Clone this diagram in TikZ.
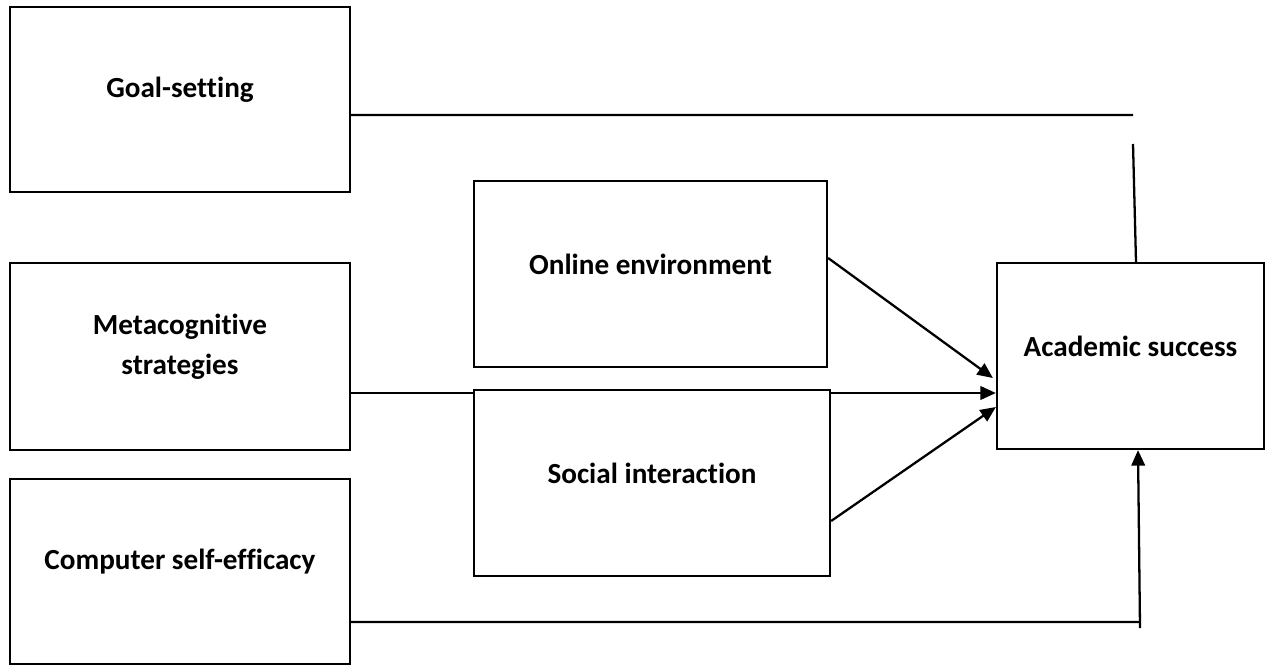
\documentclass[tikz,border=0pt]{standalone}
\usepackage{fontspec}
\setmainfont{Carlito}[Ligatures=NoCommon]
\usetikzlibrary{arrows.meta,calc}

\begin{document}
\begin{tikzpicture}[
    x=0.02cm, y=-0.02cm,
    box/.style={rectangle, draw, line width=1.3pt, inner sep=0pt},
    txt/.style={font=\fontsize{16.6}{22.7}\selectfont\bfseries, align=center, yshift=0.2cm},
    link/.style={line width=1.3pt},
    arrow/.style={-{Triangle[length=0.31cm,width=0.27cm]}, line width=1.3pt}
]
  \useasboundingbox (0,0) rectangle (1267,666);

  % Predictors (left column)
  \node[box, minimum width=6.8cm, minimum height=3.7cm, label={[txt]center:Goal-setting}] (goal) at (180,99.5) {};
  \node[box, minimum width=6.8cm, minimum height=3.74cm, label={[txt]center:Metacognitive\\strategies}] (meta) at (180,356.5) {};
  \node[box, minimum width=6.8cm, minimum height=3.7cm, label={[txt]center:Computer self-efficacy}] (comp) at (180,571.5) {};

  % Middle column
  \node[box, minimum width=7.06cm, minimum height=3.72cm, label={[txt]center:Online environment}] (online) at (650.5,274) {};
  \node[box, minimum width=7.12cm, minimum height=3.72cm, label={[txt]center:Social interaction}] (social) at (652,483) {};

  % Outcome
  \node[box, minimum width=5.34cm, minimum height=3.72cm, label={[txt]center:Academic success}] (acad) at (1130.5,356) {};

  % Free ends
  \coordinate (gEnd) at (1133,115);
  \coordinate (gTop) at (1133,144);
  \coordinate (cEnd) at (1140,622);
  \coordinate (cBot) at (1140,628);

  % Connectors
  \draw[link] ($(goal.east)+(0,15.5)$) -- (gEnd);
  \draw[link] (gTop) -- ($(acad.north)+(5.5,0)$);
  \draw[link] ($(meta.east)+(0,36.5)$) coordinate (mOut) -- (mOut -| social.west);
  \draw[arrow] (mOut -| social.east) -- (mOut -| acad.west);
  \draw[arrow] ($(online.east)+(0,-16)$) -- ($(acad.west)+(-3,22)$);
  \draw[arrow] ($(social.east)+(0,38)$) -- ($(acad.west)+(0,51)$);
  \draw[link] ($(comp.east)+(0,50.5)$) -- (cEnd);
  \draw[arrow] (cBot) -- ($(acad.south)+(7.5,0)$);
\end{tikzpicture}
\end{document}
